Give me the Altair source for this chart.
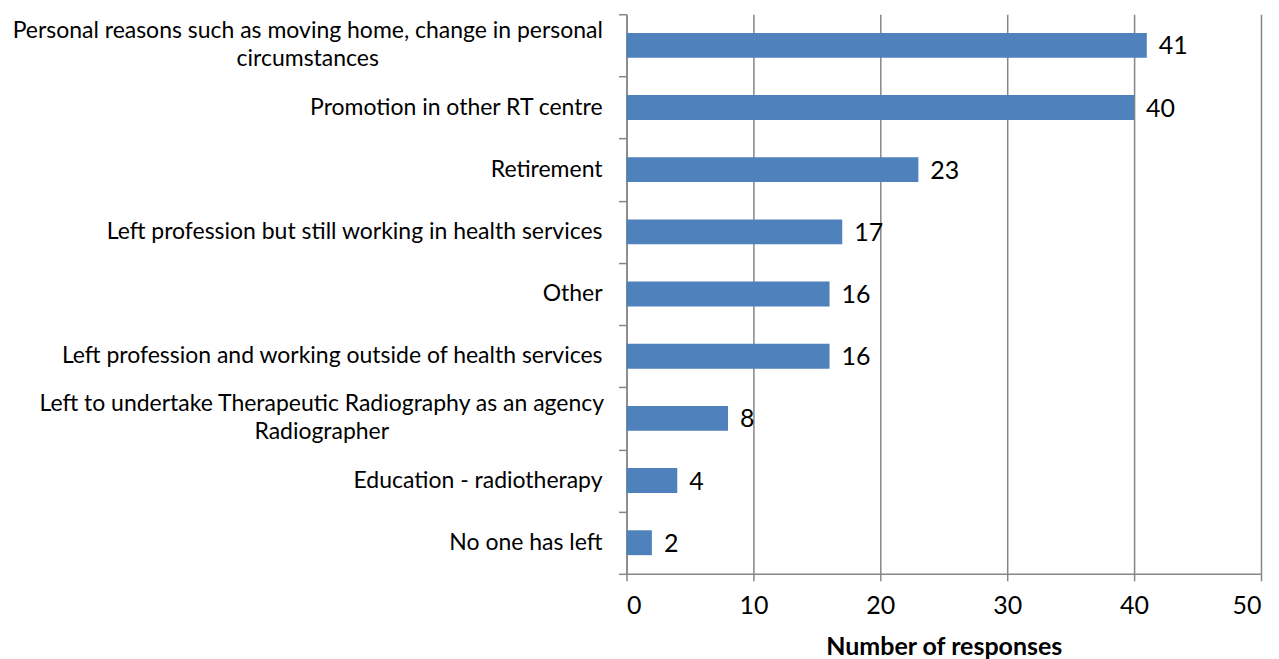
import altair as alt
import pandas as pd

categories = [
    "Personal reasons such as moving home, change in personal circumstances",
    "Promotion in other RT centre",
    "Retirement",
    "Left profession but still working in health services",
    "Other",
    "Left profession and working outside of health services",
    "Left to undertake Therapeutic Radiography as an agency Radiographer",
    "Education - radiotherapy",
    "No one has left",
]
responses = [41, 40, 23, 17, 16, 16, 8, 4, 2]
label_lines = [
    "Personal reasons such as moving home, change in personal\ncircumstances",
    "Promotion in other RT centre",
    "Retirement",
    "Left profession but still working in health services",
    "Other",
    "Left profession and working outside of health services",
    "Left to undertake Therapeutic Radiography as an agency\nRadiographer",
    "Education - radiotherapy",
    "No one has left",
]
x_ticks = [0, 10, 20, 30, 40, 50]

df = pd.DataFrame({
    "category": categories,
    "responses": responses,
    "label": label_lines,
    "lines": [s.count("\n") + 1 for s in label_lines],
})

FONT = "Lato"
GREY = "#868686"
BLUE = "#4F81BD"
LBL = 23

y_enc = alt.Y(
    "category:N",
    sort=categories,
    scale=alt.Scale(paddingInner=0, paddingOuter=0),
    axis=alt.Axis(
        labels=False, title=None, grid=False, tickBand="extent",
        tickSize=8, tickColor=GREY, tickWidth=1.5,
        domainColor=GREY, domainWidth=1.5,
    ),
)
x_enc = alt.X(
    "responses:Q",
    scale=alt.Scale(domain=[0, 50], nice=False),
    axis=alt.Axis(
        values=x_ticks, title="Number of responses",
        grid=True, gridColor=GREY, gridWidth=1.5,
        tickSize=7, tickColor=GREY, tickWidth=1.5,
        domainColor=GREY, domainWidth=1.5,
        labelFont=FONT, labelFontSize=25, labelColor="black", labelPadding=13,
        titleFont=FONT, titleFontSize=25, titleFontWeight="bold", titleColor="black",
        titlePadding=16,
    ),
)

base = alt.Chart(df)

bars = base.mark_bar(color=BLUE, height={"band": 0.4}).encode(x=x_enc, y=y_enc)

values = base.mark_text(
    align="left", baseline="middle", dx=12, dy=1, font=FONT, fontSize=25, color="black"
).encode(x=x_enc, y=y_enc, text="responses:Q")

single = base.transform_filter("datum.lines == 1").mark_text(
    align="right", baseline="middle", font=FONT, fontSize=LBL, color="black"
).encode(x=alt.value(-24), y=y_enc, text="label:N")

two_a = base.transform_filter(alt.datum.category == categories[0]).mark_text(
    align="center", baseline="middle", font=FONT, fontSize=LBL, color="black",
    lineBreak="\n", lineHeight=28, dy=-14,
).encode(x=alt.value(-319), y=y_enc, text="label:N")

two_b = base.transform_filter(alt.datum.category == categories[6]).mark_text(
    align="center", baseline="middle", font=FONT, fontSize=LBL, color="black",
    lineBreak="\n", lineHeight=28, dy=-14,
).encode(x=alt.value(-305), y=y_enc, text="label:N")

chart = alt.layer(bars, values, single, two_a, two_b).properties(
    width=635, height=560,
    autosize=alt.AutoSizeParams(type="none"),
    padding={"left": 619, "top": 6, "right": 10, "bottom": 85},
).configure_view(strokeWidth=0)

chart.save("out.html", embed_options={"renderer": "svg", "actions": False})
